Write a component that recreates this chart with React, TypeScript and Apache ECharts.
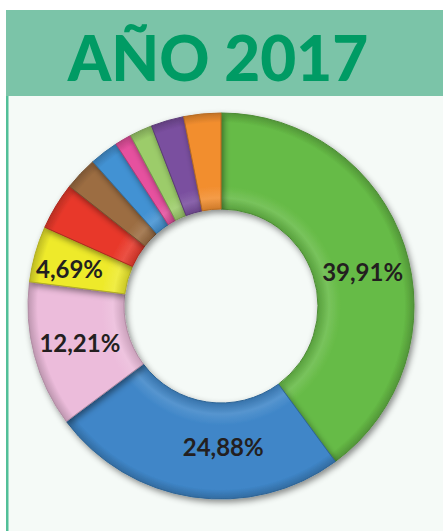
import React, { useEffect, useRef } from "react";
import * as echarts from "echarts";

const titleText = "AÑO 2017";
const categories = ["A", "B", "C", "D", "E", "F", "G", "H", "I", "J", "K"];
const values = [39.91, 24.88, 12.21, 4.69, 3.95, 2.8, 2.4, 1.4, 1.9, 2.76, 3.1];
const colors = [
  "#66bb46", "#3f86c8", "#ecbcdb", "#eeea2c", "#e8392b", "#9c6d42",
  "#4392d3", "#e6519f", "#9ccc6a", "#7a4f9f", "#f28e2f",
];
const labelShown = [true, true, true, true, false, false, false, false, false, false, false];
const labelOffsets: [number, number][] = [
  [1, 12], [24, -6], [2, -1], [-9, 2], [0, 0], [0, 0], [0, 0], [0, 0], [0, 0], [0, 0], [0, 0],
];

function shade(hex: string, f: number) {
  const n = parseInt(hex.slice(1), 16);
  let r = (n >> 16) & 255, g = (n >> 8) & 255, b = n & 255;
  const m = (c: number) => Math.max(0, Math.min(255, Math.round(f < 0 ? c * (1 + f) : c + (255 - c) * f)));
  r = m(r); g = m(g); b = m(b);
  return "rgb(" + r + "," + g + "," + b + ")";
}

export default function App() {
  const ref = useRef<HTMLDivElement>(null);
  useEffect(() => {
    document.body.style.margin = "0";
    const chart = echarts.init(ref.current!, null, { renderer: "svg" });
    const fmt = (v: number) => v.toFixed(2).replace(".", ",") + "%";
    chart.setOption({
      animation: false,
      backgroundColor: "#ffffff",
      graphic: [
        { type: "rect", shape: { x: 6, y: 96, width: 437, height: 435 }, style: { fill: "#f5faf7" }, z: -10 },
        { type: "rect", shape: { x: 6, y: 96, width: 2.5, height: 435 }, style: { fill: "#52bf98" }, z: -9 },
        { type: "rect", shape: { x: 6, y: 10, width: 437, height: 86 }, style: { fill: "#7bc4a8" }, z: -9 },
        {
          type: "text",
          x: 218,
          y: 57,
          style: {
            text: titleText,
            fill: "#009b64",
            font: "900 62px Lato",
            align: "center",
            verticalAlign: "middle",
          },
        },
      ],
      series: [
        {
          type: "pie",
          center: [221, 306],
          radius: [97, 193],
          startAngle: 90,
          clockwise: true,
          avoidLabelOverlap: false,
          silent: true,
          label: {
            show: true,
            position: "inside",
            color: "#231f20",
            fontFamily: "Lato",
            fontWeight: "bold",
            fontSize: 24,
          },
          labelLine: { show: false },
          data: categories.map((c, i) => ({
            name: c,
            value: values[i],
            label: {
              show: labelShown[i],
              formatter: fmt(values[i]),
              offset: labelOffsets[i],
            },
            itemStyle: {
              color: {
                type: "radial",
                x: 221,
                y: 306,
                r: 193,
                global: true,
                colorStops: [
                  { offset: 0.5, color: shade(colors[i], -0.15) },
                  { offset: 0.56, color: shade(colors[i], 0.12) },
                  { offset: 0.62, color: colors[i] },
                  { offset: 0.95, color: colors[i] },
                  { offset: 1, color: shade(colors[i], -0.2) },
                ],
              },
              borderColor: shade(colors[i], -0.25),
              borderWidth: 1,
              shadowBlur: 6,
              shadowColor: "rgba(0,0,0,0.45)",
              shadowOffsetX: 2,
              shadowOffsetY: 3,
            },
          })),
        },
      ],
    });
    return () => chart.dispose();
  }, []);
  return <div ref={ref} style={{ width: 443, height: 531 }} />;
}
